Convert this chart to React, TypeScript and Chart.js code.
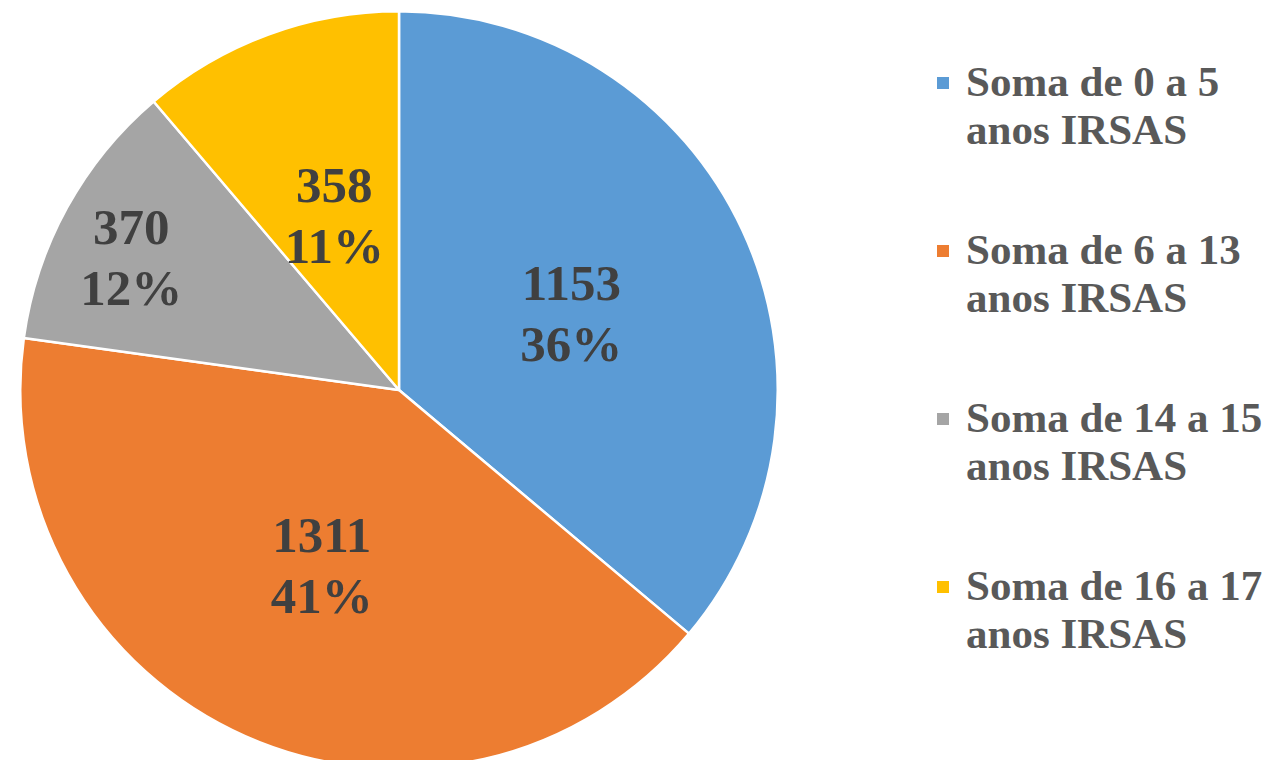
import React, { useEffect, useRef } from "react";
import { Chart, registerables } from "chart.js";

Chart.register(...registerables);

const categories = [
  "Soma de 0 a 5 anos IRSAS",
  "Soma de 6 a 13 anos IRSAS",
  "Soma de 14 a 15 anos IRSAS",
  "Soma de 16 a 17 anos IRSAS",
];
const legendLines = [
  ["Soma de 0 a 5", "anos IRSAS"],
  ["Soma de 6 a 13", "anos IRSAS"],
  ["Soma de 14 a 15", "anos IRSAS"],
  ["Soma de 16 a 17", "anos IRSAS"],
];
const values = [1153, 1311, 370, 358];
const colors = ["#5B9BD5", "#ED7D31", "#A5A5A5", "#FFC000"];
const labelRadiusFraction = [0.5, 0.502, 0.79, 0.495];
const labelAngleNudgeDeg = [0.5, 0, -2.2, 0];

const FONT = '"Liberation Serif", "Times New Roman", serif';

const labelPlugin = {
  id: "sliceLabels",
  afterDatasetsDraw(chart: any) {
    const ctx = chart.ctx;
    const meta = chart.getDatasetMeta(0);
    const data = chart.data.datasets[0].data as number[];
    const total = data.reduce((a, b) => a + b, 0);
    ctx.save();
    ctx.fillStyle = "#404040";
    ctx.font = `bold 51px ${FONT}`;
    ctx.textAlign = "center";
    ctx.textBaseline = "alphabetic";
    meta.data.forEach((arc: any, i: number) => {
      const { x, y, startAngle, endAngle, outerRadius } = arc.getProps(
        ["x", "y", "startAngle", "endAngle", "outerRadius"],
        true
      );
      const mid = (startAngle + endAngle) / 2 + (labelAngleNudgeDeg[i] * Math.PI) / 180;
      const r = outerRadius * labelRadiusFraction[i];
      const cx = x + Math.cos(mid) * r;
      const cy = y + Math.sin(mid) * r;
      const pct = Math.round((data[i] / total) * 100) + "%";
      ctx.fillText(String(data[i]), cx, cy - 12);
      ctx.fillText(pct, cx, cy + 49);
    });
    ctx.restore();
  },
};

export default function App() {
  const canvasRef = useRef<HTMLCanvasElement | null>(null);

  useEffect(() => {
    if (!canvasRef.current) return;
    const chart = new Chart(canvasRef.current, {
      type: "pie",
      data: {
        labels: categories,
        datasets: [
          {
            data: values,
            backgroundColor: colors,
            borderColor: "#FFFFFF",
            borderWidth: 2.5,
          },
        ],
      },
      options: {
        responsive: false,
        animation: false,
        layout: { padding: 0 },
        plugins: {
          legend: { display: false },
          tooltip: { enabled: false },
        },
      },
      plugins: [labelPlugin],
    });
    return () => chart.destroy();
  }, []);

  return (
    <div
      style={{
        position: "fixed",
        left: 0,
        top: 0,
        width: 1276,
        height: 760,
        overflow: "hidden",
        background: "#FFFFFF",
      }}
    >
      <canvas
        ref={canvasRef}
        width={760}
        height={760}
        style={{ position: "absolute", left: 19, top: 10, width: 760, height: 760 }}
      />
      {legendLines.map((lines, i) => (
        <div
          key={i}
          style={{
            position: "absolute",
            left: 937,
            top: 58 + i * 168,
            display: "flex",
            alignItems: "flex-start",
          }}
        >
          <div
            style={{
              width: 12,
              height: 12,
              marginTop: 19,
              marginRight: 17,
              background: colors[i],
            }}
          />
          <div
            style={{
              fontFamily: FONT,
              fontWeight: "bold",
              fontSize: 43,
              lineHeight: "48px",
              color: "#595959",
              whiteSpace: "nowrap",
            }}
          >
            {lines.map((l, j) => (
              <div key={j}>{l}</div>
            ))}
          </div>
        </div>
      ))}
    </div>
  );
}
